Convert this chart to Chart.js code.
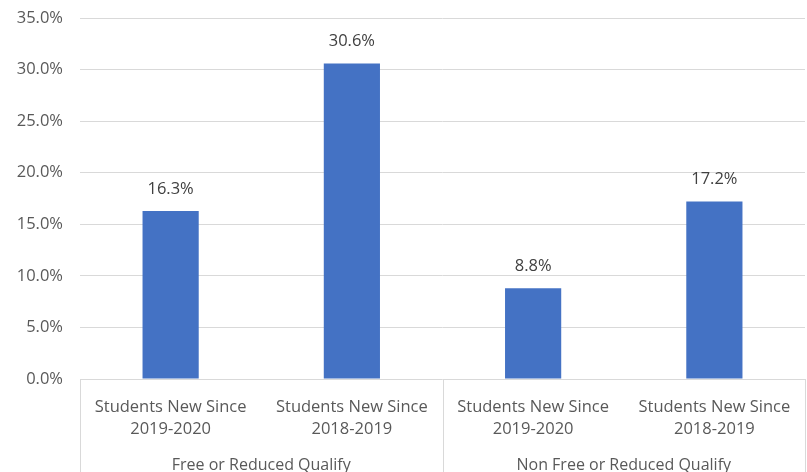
<!DOCTYPE html>
<html>
<head>
<meta charset="utf-8">
<script src="https://cdn.jsdelivr.net/npm/chart.js@4/dist/chart.umd.min.js"></script>
<style>
  html, body { margin: 0; padding: 0; background: #ffffff; }
  #wrap { width: 807px; height: 472px; }
</style>
</head>
<body>
<div id="wrap"><canvas id="chart" width="807" height="472"></canvas></div>
<script>
// chart data
const categories = [
  ["Students New Since", "2019-2020"],
  ["Students New Since", "2018-2019"],
  ["Students New Since", "2019-2020"],
  ["Students New Since", "2018-2019"],
];
const groups = ["Free or Reduced Qualify", "Non Free or Reduced Qualify"];
const groupSize = 2;
const values = [16.3, 30.6, 8.8, 17.2];
const yTicks = [0, 5, 10, 15, 20, 25, 30, 35];

const FONT = "'Open Sans', sans-serif";
const TEXT = "#595959";
const GRID = "#d9d9d9";

// value labels above bars, group separators and group names under the axis
const groupAxisPlugin = {
  id: "groupAxis",
  afterDraw(chart) {
    const { ctx, chartArea, scales } = chart;
    const x = scales.x;
    const meta = chart.getDatasetMeta(0);

    ctx.save();
    ctx.font = `16.5px ${FONT}`;
    ctx.fillStyle = "#404040";
    ctx.textAlign = "center";
    ctx.textBaseline = "middle";
    meta.data.forEach((bar, i) => {
      ctx.fillText(values[i].toFixed(1) + "%", bar.x, bar.y - 22);
    });

    const half = (x.getPixelForValue(1) - x.getPixelForValue(0)) / 2;
    ctx.strokeStyle = GRID;
    ctx.lineWidth = 1;
    for (let g = 0; g <= groups.length; g++) {
      const idx = Math.min(g * groupSize, categories.length - 1);
      const px = Math.round(x.getPixelForValue(idx) + (g * groupSize >= categories.length ? half : -half)) + 0.5;
      ctx.beginPath();
      ctx.moveTo(px, chartArea.bottom);
      ctx.lineTo(px, chart.height);
      ctx.stroke();
    }

    ctx.font = `16px ${FONT}`;
    ctx.fillStyle = TEXT;
    groups.forEach((name, g) => {
      const a = x.getPixelForValue(g * groupSize) - half;
      const b = x.getPixelForValue(g * groupSize + groupSize - 1) + half;
      ctx.fillText(name, (a + b) / 2, chartArea.bottom + 86);
    });
    ctx.restore();
  },
};

new Chart(document.getElementById("chart"), {
  type: "bar",
  data: {
    labels: categories,
    datasets: [
      {
        data: values,
        backgroundColor: "#4472c4",
        borderWidth: 0,
        categoryPercentage: 1,
        barPercentage: 0.31,
      },
    ],
  },
  options: {
    responsive: false,
    animation: false,
    layout: { padding: { top: 18, right: 2, left: 0, bottom: 0 } },
    plugins: {
      legend: { display: false },
      tooltip: { enabled: false },
    },
    scales: {
      x: {
        grid: { display: false },
        border: { display: false },
        ticks: {
          color: TEXT,
          font: { family: FONT, size: 16.5, lineHeight: 1.33 },
          padding: 9,
          maxRotation: 0,
          autoSkip: false,
        },
        afterFit: (scale) => {
          scale.height = 93;
          scale.paddingTop = 0;
          scale.paddingBottom = 0;
        },
      },
      y: {
        min: 0,
        max: 35,
        afterBuildTicks: (scale) => {
          scale.ticks = yTicks.map((v) => ({ value: v }));
        },
        grid: { color: GRID, drawTicks: false },
        border: { display: false },
        ticks: {
          color: TEXT,
          font: { family: FONT, size: 16.5 },
          padding: 17,
          callback: (v) => v.toFixed(1) + "%",
        },
        afterFit: (scale) => {
          scale.width = 80;
          scale.paddingTop = 0;
          scale.paddingBottom = 0;
        },
      },
    },
  },
  plugins: [groupAxisPlugin],
});
</script>
</body>
</html>
